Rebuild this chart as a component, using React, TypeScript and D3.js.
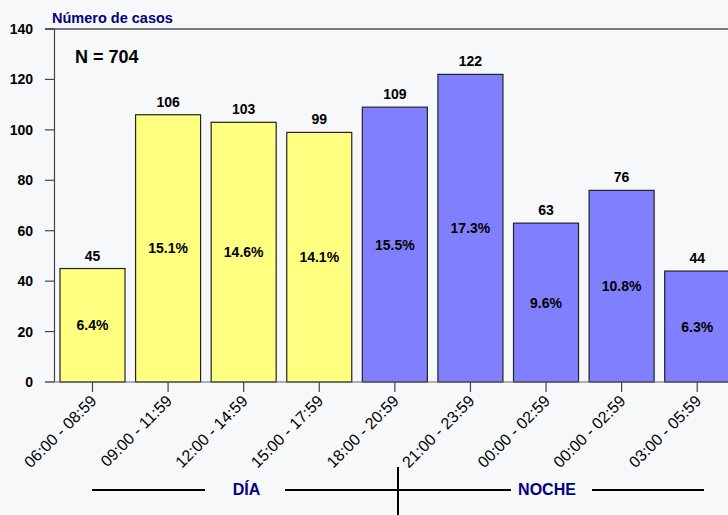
import React from "react";
import * as d3 from "d3";

const categories = [
  "06:00 - 08:59",
  "09:00 - 11:59",
  "12:00 - 14:59",
  "15:00 - 17:59",
  "18:00 - 20:59",
  "21:00 - 23:59",
  "00:00 - 02:59",
  "00:00 - 02:59 ",
  "03:00 - 05:59",
];
const values = [45, 106, 103, 99, 109, 122, 63, 76, 44];
const percents = ["6.4%", "15.1%", "14.6%", "14.1%", "15.5%", "17.3%", "9.6%", "10.8%", "6.3%"];
const periods = ["día", "día", "día", "día", "noche", "noche", "noche", "noche", "noche"];
const yTicks = [0, 20, 40, 60, 80, 100, 120, 140];
const totalLabel = "N = 704";
const yTitle = "Número de casos";
const groupLabels = ["DÍA", "NOCHE"];

const W = 728;
const H = 515;
const FONT = "'Liberation Sans', Arial, sans-serif";

export default function App() {
  const x = d3.scaleBand<string>().domain(categories).range([54.7, 735]).paddingInner(0.14).paddingOuter(0.07);
  const y = d3.scaleLinear().domain([0, 140]).range([382, 29]);
  const colors: Record<string, string> = { "día": "#ffff80", noche: "#8080ff" };
  const bw = x.bandwidth();

  return (
    <svg width={W} height={H} style={{ position: "absolute", left: 0, top: 0, background: "#f6f8fa", fontFamily: FONT }}>
      <rect x={0} y={0} width={W} height={H} fill="#f6f8fa" />
      {/* y title */}
      <text x={52} y={23} fontSize={14.5} fontWeight="bold" fill="#000080">{yTitle}</text>
      {/* top frame line */}
      <line x1={45} x2={W} y1={y(140)} y2={y(140)} stroke="#000" strokeWidth={1.2} />
      {/* y axis */}
      <line x1={54.5} x2={54.5} y1={y(140)} y2={y(0)} stroke="#444" strokeWidth={1.2} />
      {yTicks.map((t) => (
        <g key={t}>
          <line x1={45} x2={54.5} y1={y(t)} y2={y(t)} stroke="#444" strokeWidth={1.2} />
          <text x={33} y={y(t) + 5} textAnchor="end" fontSize={14} fontWeight="bold" fill="#000">{t}</text>
        </g>
      ))}
      {/* bars */}
      {categories.map((c, i) => {
        const x0 = x(c)!;
        const yt = y(values[i]);
        return (
          <g key={c}>
            <rect x={x0} y={yt} width={bw} height={y(0) - yt} fill={colors[periods[i]]} stroke="#222" strokeWidth={1.2} />
            <text x={x0 + bw / 2} y={yt - 8} textAnchor="middle" fontSize={14} fontWeight="bold" fill="#000">{values[i]}</text>
            <text x={x0 + bw / 2} y={(yt + y(0)) / 2 + 5} textAnchor="middle" fontSize={14} fontWeight="bold" fill="#000">{percents[i]}</text>
          </g>
        );
      })}
      {/* x axis */}
      <line x1={45} x2={W} y1={y(0)} y2={y(0)} stroke="#666" strokeWidth={1.2} />
      {categories.map((c) => {
        const cx = x(c)! + bw / 2;
        return (
          <g key={"t" + c}>
            <line x1={cx} x2={cx} y1={y(0)} y2={y(0) + 10} stroke="#444" strokeWidth={1.2} />
            <text transform={`translate(${cx + 5},${402}) rotate(-45)`} textAnchor="end" fontSize={16} fill="#000">{c.trim()}</text>
          </g>
        );
      })}
      {/* group labels */}
      <line x1={92} x2={205} y1={490} y2={490} stroke="#000" strokeWidth={2} />
      <text x={246.5} y={495} textAnchor="middle" fontSize={16} fontWeight="bold" fill="#000080">{groupLabels[0]}</text>
      <line x1={285} x2={511} y1={490} y2={490} stroke="#000" strokeWidth={2} />
      <line x1={398} x2={398} y1={467} y2={H} stroke="#000" strokeWidth={2} />
      <text x={547} y={495} textAnchor="middle" fontSize={16} fontWeight="bold" fill="#000080">{groupLabels[1]}</text>
      <line x1={592} x2={704} y1={490} y2={490} stroke="#000" strokeWidth={2} />
      {/* N label */}
      <text x={75} y={63} fontSize={18} fontWeight="bold" fill="#000">{totalLabel}</text>
    </svg>
  );
}
